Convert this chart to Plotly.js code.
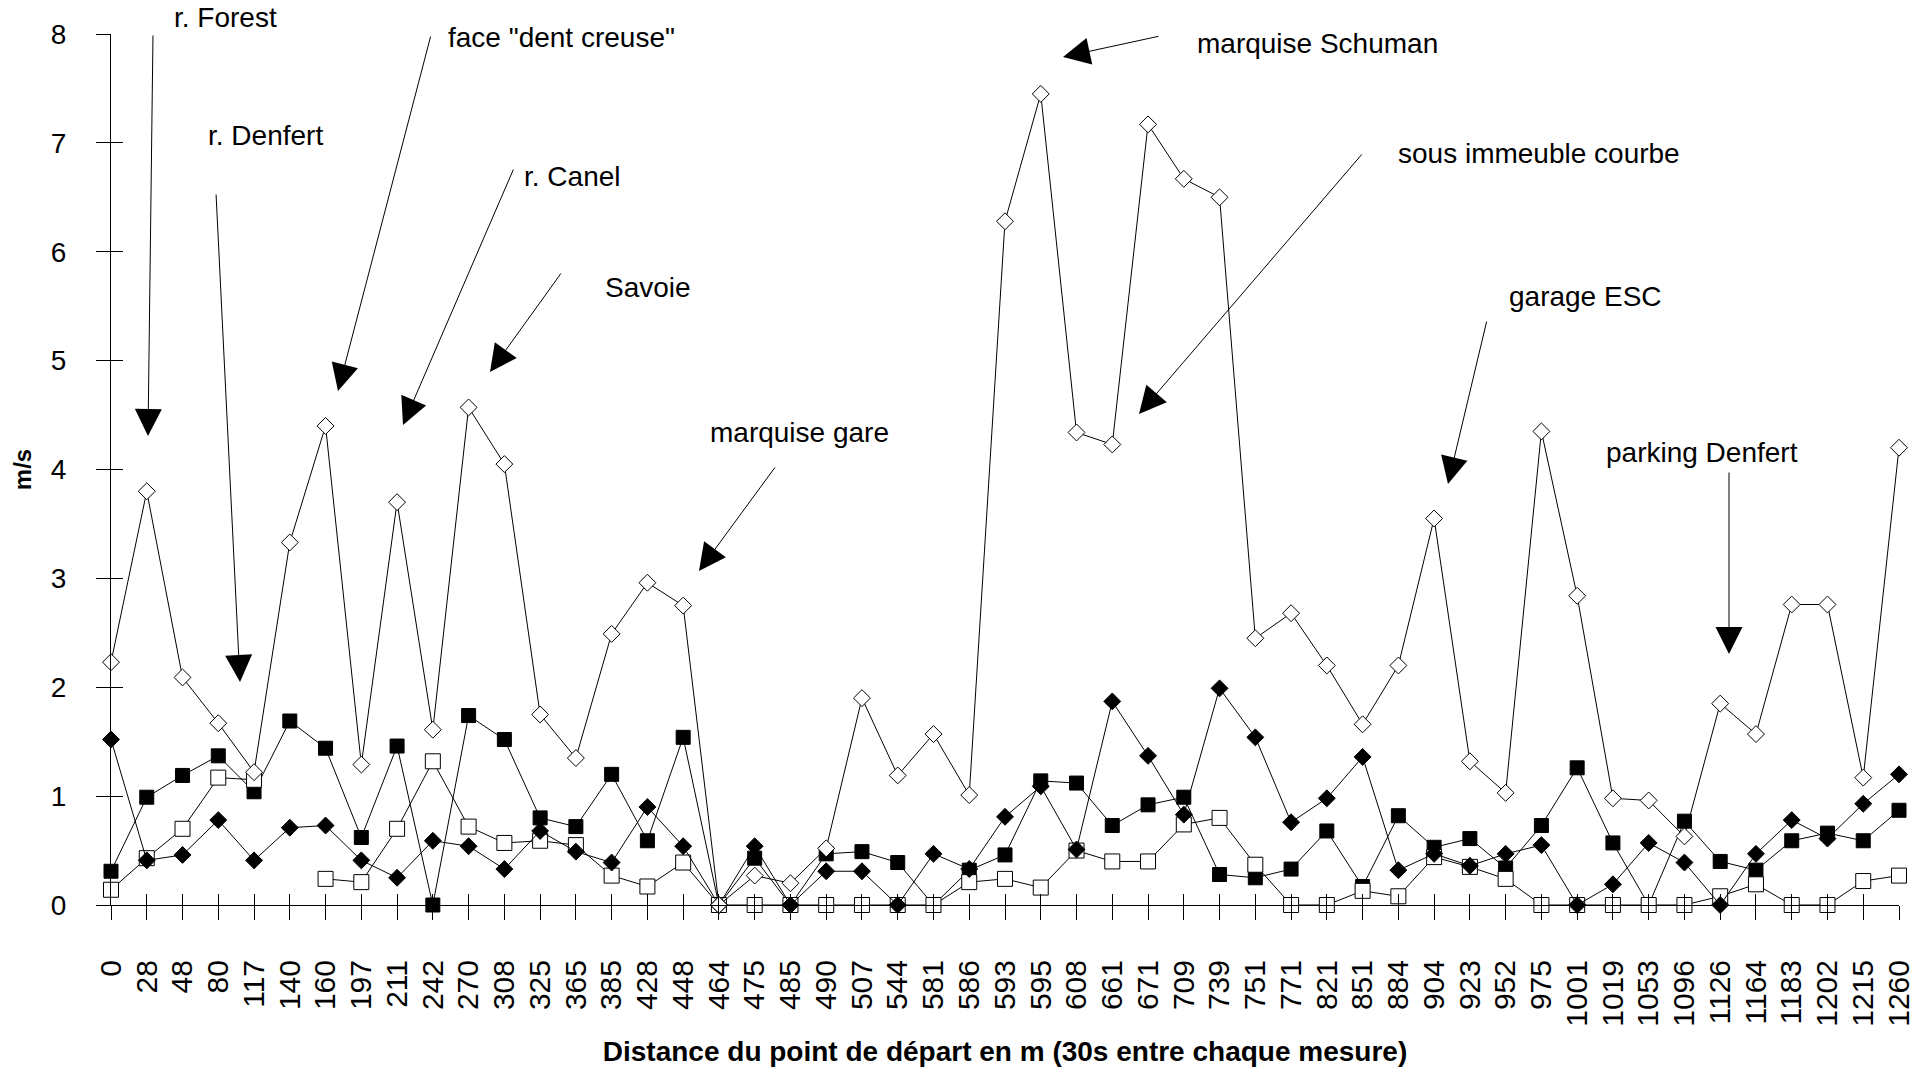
<!DOCTYPE html>
<html>
<head>
<meta charset="utf-8">
<script src="https://cdn.plot.ly/plotly-3.0.1.min.js"></script>
<style>
  html, body { margin: 0; padding: 0; background: #ffffff; }
  #chart { width: 1927px; height: 1067px; }
</style>
</head>
<body>
<div id="chart"></div>
<script>
// ---- Data ----
const distances = ['0','28','48','80','117','140','160','197','211','242','270','308','325','365','385','428','448','464','475','485','490','507','544','581','586','593','595','608','661','671','709','739','751','771','821','851','884','904','923','952','975','1001','1019','1053','1096','1126','1164','1183','1202','1215','1260'];

// open diamonds (highest series)
const serieOpenDiamond = [2.23,3.8,2.09,1.67,1.22,3.33,4.4,1.29,3.7,1.61,4.57,4.05,1.75,1.35,2.49,2.96,2.75,0,0.27,0.2,0.52,1.9,1.19,1.57,1.01,6.28,7.45,4.34,4.23,7.17,6.67,6.5,2.45,2.68,2.2,1.66,2.2,3.55,1.32,1.03,4.35,2.84,0.98,0.96,0.63,1.85,1.57,2.76,2.76,1.17,4.2];

// filled squares
const serieFilledSquare = [0.31,0.99,1.19,1.37,1.04,1.69,1.44,0.62,1.46,0,1.74,1.52,0.8,0.72,1.2,0.59,1.54,0,0.43,0,0.47,0.49,0.39,0,0.32,0.46,1.14,1.12,0.73,0.92,0.99,0.28,0.25,0.33,0.68,0.17,0.82,0.53,0.61,0.34,0.73,1.26,0.57,0,0.77,0.4,0.32,0.59,0.66,0.59,0.87];

// open squares (one missing measure at 140 m)
const serieOpenSquare = [0.14,0.43,0.7,1.17,1.15,null,0.24,0.21,0.7,1.32,0.72,0.57,0.59,0.55,0.27,0.17,0.39,0,0,0,0,0,0,0,0.21,0.24,0.16,0.5,0.4,0.4,0.74,0.8,0.37,0,0,0.13,0.08,0.44,0.35,0.24,0,0,0,0,0,0.08,0.19,0,0,0.22,0.27];

// filled diamonds
const serieFilledDiamond = [1.52,0.41,0.46,0.78,0.41,0.71,0.73,0.41,0.25,0.59,0.54,0.33,0.68,0.49,0.39,0.9,0.54,0,0.54,0,0.31,0.31,0,0.47,0.33,0.81,1.09,0.51,1.87,1.37,0.83,1.99,1.54,0.76,0.98,1.36,0.32,0.47,0.36,0.47,0.55,0,0.19,0.57,0.39,0,0.47,0.78,0.61,0.93,1.2];

const yTickValues = [0,1,2,3,4,5,6,7,8];

const placeNames = ['r. Forest','r. Denfert','face "dent creuse"','r. Canel','Savoie','marquise gare','marquise Schuman','sous immeuble courbe','garage ESC','parking Denfert'];

// ---- Layout geometry (pixels) ----
const W = 1927, H = 1067;
const M = {l: 111, r: 28, t: 34, b: 162};
const plotW = W - M.l - M.r, plotH = H - M.t - M.b;
const px = x => (x - M.l) / plotW;
const py = y => (H - M.b - y) / plotH;

const FONT = 'Liberation Sans, Arial, Helvetica, sans-serif';

// label placement (left x, centre y) and arrows (tail -> tip), in pixels
const labelPos = [[172,18],[206,136],[446,37],[522,176],[603,287],[708,432],[1195,43],[1396,153],[1507,296],[1604,452]];
const arrowPos = [
  [[153,34],[148,436]],
  [[216,193],[240,682]],
  [[431,35],[338,391]],
  [[514,168],[403,425]],
  [[562,272],[490,372]],
  [[776,466],[699,571]],
  [[1160,36],[1063,57]],
  [[1363,153],[1139,414]],
  [[1487,320],[1448,484]],
  [[1729,471],[1729,654]]
];

function line(y, symbol, size, filled) {
  return {
    type: 'scatter', mode: 'lines+markers',
    x: distances, y: y,
    connectgaps: false,
    cliponaxis: false,
    line: {color: '#000000', width: 1},
    marker: {symbol: symbol, size: size,
      color: filled ? '#000000' : '#ffffff',
      line: {color: '#000000', width: 1}},
    hoverinfo: 'skip', showlegend: false
  };
}

const traces = [
  line(serieFilledSquare, 'square', 14, true),
  line(serieOpenSquare, 'square', 15, false),
  line(serieFilledDiamond, 'diamond', 13, true),
  line(serieOpenDiamond, 'diamond', 13, false),
  // empty carriers so that the overlay axes (inner half of the crossing ticks) are drawn
  {type: 'scatter', x: [], y: [], xaxis: 'x2', yaxis: 'y', hoverinfo: 'skip', showlegend: false},
  {type: 'scatter', x: [], y: [], xaxis: 'x', yaxis: 'y2', hoverinfo: 'skip', showlegend: false}
];

const annotations = [];
placeNames.forEach((name, i) => {
  annotations.push({
    xref: 'paper', yref: 'paper',
    x: px(labelPos[i][0]), y: py(labelPos[i][1]),
    xanchor: 'left', yanchor: 'middle',
    text: name, showarrow: false,
    font: {family: FONT, size: 28, color: '#000000'}
  });
  const tail = arrowPos[i][0], tip = arrowPos[i][1];
  annotations.push({
    xref: 'paper', yref: 'paper',
    x: px(tip[0]), y: py(tip[1]),
    ax: tail[0] - tip[0], ay: tail[1] - tip[1],
    text: '', showarrow: true,
    arrowhead: 2, arrowsize: 5.4, arrowwidth: 1, arrowcolor: '#000000',
    standoff: 0, startstandoff: 0,
    font: {size: 1}
  });
});

const layout = {
  width: W, height: H,
  margin: M,
  paper_bgcolor: '#ffffff', plot_bgcolor: '#ffffff',
  font: {family: FONT, color: '#000000'},
  showlegend: false,
  hovermode: false,
  xaxis: {
    type: 'category',
    categoryorder: 'array', categoryarray: distances,
    range: [0, distances.length - 1],
    tickmode: 'array', tickvals: distances, ticktext: distances,
    showgrid: false, zeroline: false,
    showline: true, linecolor: '#000000', linewidth: 1,
    ticks: 'outside', ticklen: 14, tickwidth: 1, tickcolor: '#000000',
    tickangle: -90,
    tickfont: {family: FONT, size: 30, color: '#000000'},
    ticklabelstandoff: 28,
    title: {text: 'Distance du point de départ en m (30s entre chaque mesure)',
      font: {family: FONT, size: 28, weight: 'bold', color: '#000000'},
      standoff: 16},
    fixedrange: true
  },
  yaxis: {
    range: [0, 8],
    tickmode: 'array', tickvals: yTickValues, ticktext: yTickValues.map(String),
    showgrid: false, zeroline: false,
    showline: true, linecolor: '#000000', linewidth: 1,
    ticks: 'outside', ticklen: 14, tickwidth: 1, tickcolor: '#000000',
    tickfont: {family: FONT, size: 28, color: '#000000'},
    ticklabelstandoff: 24,
    title: {text: 'm/s',
      font: {family: FONT, size: 24, weight: 'bold', color: '#000000'},
      standoff: 12},
    fixedrange: true
  },
  xaxis2: {
    overlaying: 'x', anchor: 'y', side: 'bottom',
    type: 'linear', range: [0, distances.length - 1],
    tickmode: 'linear', tick0: 0, dtick: 1,
    ticks: 'inside', ticklen: 11, tickwidth: 1, tickcolor: '#000000',
    showticklabels: false, showgrid: false, zeroline: false, showline: false,
    fixedrange: true
  },
  yaxis2: {
    overlaying: 'y', anchor: 'x', side: 'left',
    range: [0, 8], tickmode: 'linear', tick0: 0, dtick: 1,
    ticks: 'inside', ticklen: 12, tickwidth: 1, tickcolor: '#000000',
    showticklabels: false, showgrid: false, zeroline: false, showline: false,
    fixedrange: true
  },
  annotations: annotations
};

Plotly.newPlot('chart', traces, layout, {displayModeBar: false, staticPlot: true});
</script>
</body>
</html>
